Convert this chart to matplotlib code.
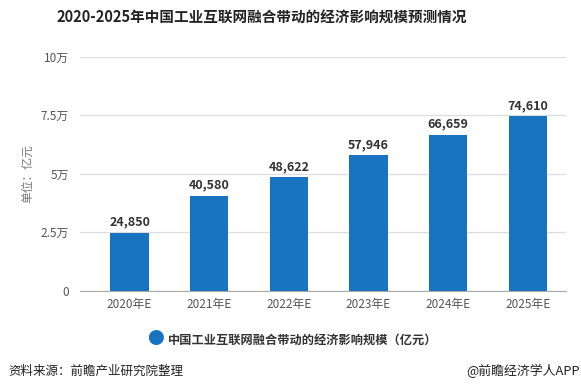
import matplotlib.pyplot as plt
import numpy as np

plt.rcParams['font.family'] = ['Noto Sans CJK SC', 'DejaVu Sans']

years = ['2020年E', '2021年E', '2022年E', '2023年E', '2024年E', '2025年E']
values = [24850, 40580, 48622, 57946, 66659, 74610]
yticks = [0, 25000, 50000, 75000, 100000]
ytick_labels = ['0', '2.5万', '5万', '7.5万', '10万']

bar_color = '#1874c1'

fig = plt.figure(figsize=(5.81, 3.92), dpi=100)
ax = fig.add_axes([0.138, 0.258, 0.836, 0.597])

x = np.arange(len(years))
ax.bar(x, values, width=0.48, color=bar_color, zorder=3)
for xi, v in zip(x, values):
    ax.text(xi, v + 1800, f'{v:,}', ha='center', va='bottom',
            fontsize=9, fontweight='bold', color='#333333')

ax.set_xlim(-0.62, 5.48)
ax.set_ylim(0, 100000)
ax.set_yticks(yticks)
ax.set_yticklabels(ytick_labels)
ax.set_xticks(x)
ax.set_xticklabels(years)
ax.tick_params(axis='both', length=0, labelsize=8.5, colors='#555555')
ax.tick_params(axis='y', pad=8)
ax.tick_params(axis='x', pad=5)
ax.grid(axis='y', color='#dddddd', linewidth=0.9, zorder=0)
for s in ['top', 'right', 'left']:
    ax.spines[s].set_visible(False)
ax.spines['bottom'].set_color('#aaaaaa')
fig.text(0.047, 0.556, '单位：亿元', rotation=90, ha='center', va='center',
         fontsize=8.5, color='#777777')

fig.text(0.45, 0.955, '2020-2025年中国工业互联网融合带动的经济影响规模预测情况',
         ha='center', va='center', fontsize=10.5, fontweight='bold', color='#222222')

fig.text(0.267, 0.133, '●', ha='center', va='center', fontsize=12, color=bar_color)
fig.text(0.289, 0.133, '中国工业互联网融合带动的经济影响规模（亿元）', ha='left', va='center',
         fontsize=8.8, fontweight='bold', color='#333333')

fig.text(0.014, 0.054, '资料来源：前瞻产业研究院整理', ha='left', va='center',
         fontsize=9, color='#222222')
fig.text(0.998, 0.054, '@前瞻经济学人APP', ha='right', va='center',
         fontsize=9.3, color='#222222')

fig.savefig('out.png', dpi=100)
